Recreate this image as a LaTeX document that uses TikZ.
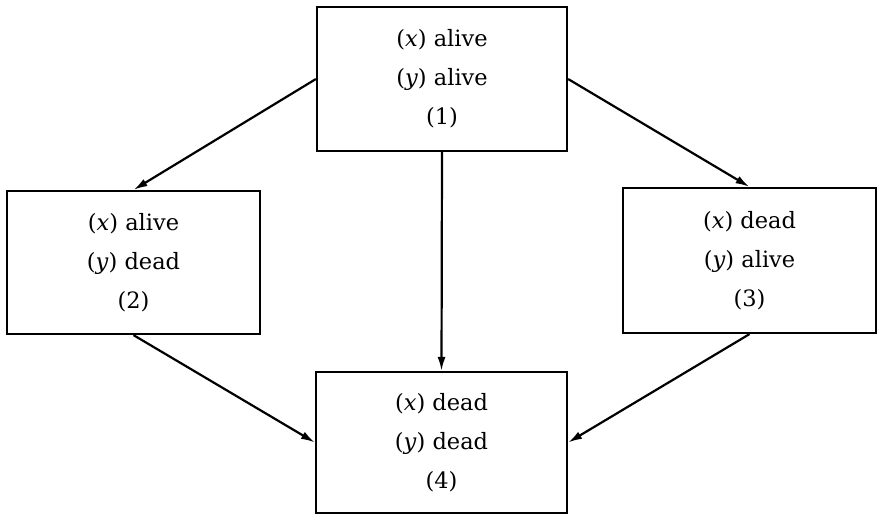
\documentclass[tikz,border=0pt]{standalone}
\usepackage{fontspec}
\setmainfont{DejaVu Serif}
\usetikzlibrary{arrows.meta}
\begin{document}
\begin{tikzpicture}[x=1pt,y=-1pt,
  statebox/.style={draw=black, line width=2.2pt, align=center, inner sep=0pt,
    font=\fontsize{22.5}{39}\selectfont},
  flow/.style={line width=2.2pt, -{Latex[length=14pt,width=8pt]}}]
\useasboundingbox (0,0) rectangle (880,515);
\node[statebox, minimum width=250pt, minimum height=144pt] (s1) at (442,79)
  {(\textit{x}) alive\\(\textit{y}) alive\\(1)};
\node[statebox, minimum width=253pt, minimum height=143pt] (s2) at (133.5,262.5)
  {(\textit{x}) alive\\(\textit{y}) dead\\(2)};
\node[statebox, minimum width=253pt, minimum height=145pt] (s3) at (749.5,260.5)
  {(\textit{x}) dead\\(\textit{y}) alive\\(3)};
\node[statebox, minimum width=251pt, minimum height=141pt] (s4) at (441.5,442.5)
  {(\textit{x}) dead\\(\textit{y}) dead\\(4)};
\draw[flow] (s1.west) -- (s2.north);
\draw[flow] (s1.east) -- (s3.north);
\draw[flow] (s1.south) -- (s4.north);
\draw[flow] (s2.south) -- (s4.west);
\draw[flow] (s3.south) -- (s4.east);
\end{tikzpicture}
\end{document}
